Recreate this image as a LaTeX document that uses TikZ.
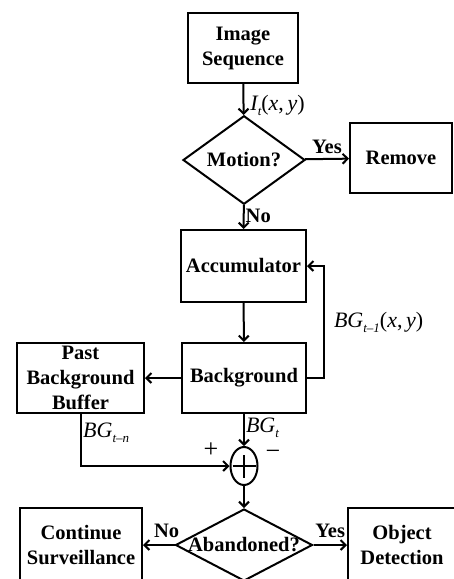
\documentclass[tikz,border=0pt]{standalone}
\usepackage{fontspec}
\setmainfont{Liberation Serif}
\usepackage{tikz}
\usetikzlibrary{positioning}
\usetikzlibrary{calc}
\usetikzlibrary{shapes.geometric}
\usetikzlibrary{arrows.meta}

\newcommand{\boxfont}{\fontsize{20.5}{25}\selectfont\bfseries}
\newcommand{\sigfont}{\fontsize{22}{24}\selectfont\itshape}
\newcommand{\lowsub}[1]{\raisebox{-0.5ex}{\fontsize{13}{13}\selectfont #1}}
\newcommand{\xy}{{\upshape(}x{\upshape,}\,y{\upshape)}}

\tikzset{
  block/.style={draw, line width=2pt, align=center, inner sep=0pt, font=\boxfont},
  decision/.style={draw, diamond, line width=2pt, inner sep=0pt, font=\boxfont},
  flow/.style={line width=2pt, ->},
  sig/.style={font=\sigfont, inner sep=1pt},
  tag/.style={font=\boxfont, inner sep=1pt},
}

\begin{document}
\begin{tikzpicture}[x=1pt, y=-1pt, >={Straight Barb[length=5pt,width=10pt]}]
      \useasboundingbox (0,0) rectangle (454,579);

      % blocks
      \node[block, minimum width=110, minimum height=70] at (243,48) (img) {Image\\Sequence};
      \node[decision, minimum width=122, minimum height=70] at (244,160) (motion) {Motion?};
      \node[block, minimum width=102, minimum height=70] at (401,158) (remove) {Remove};
      \node[block, minimum width=125, minimum height=72] at (243.5,266) (accum) {Accumulator};
      \node[block, minimum width=124, minimum height=70] at (244,378) (bg) {Background};
      \node[block, minimum width=127, minimum height=70] at (80.5,378) (pbb) {Past\\Background\\Buffer};
      \node[draw, ellipse, line width=2pt, minimum width=27, minimum height=38, inner sep=0pt] at (244,466) (sum) {};
      \node[decision, minimum width=137, minimum height=72, label={[font=\boxfont]center:Abandoned?}] at (244,545) (aband) {};
      \node[block, minimum width=122, minimum height=74] at (81,545) (cont) {Continue\\Surveillance};
      \node[block, minimum width=108, minimum height=74] at (402,545) (objdet) {Object\\Detection};

      % plus sign in the adder
      \draw[line width=2pt] ($(sum.west)+(3,0)$) -- ($(sum.east)+(-3,0)$);
      \draw[line width=2pt] ($(sum.north)+(0,9)$) -- ($(sum.south)+(0,-8)$);

      % connectors
      \draw[flow] (img) -- node[sig, right, xshift=5pt, yshift=-6pt] {I\lowsub{t}\xy} (motion);
      \draw[flow] (motion) -- node[tag, above=3pt] {Yes} (remove);
      \draw[flow] (motion) -- node[tag, right, pos=0.45] {No} (accum);
      \draw[flow] (accum) -- (bg);
      \draw[flow] (bg.east) -- ++(17,0) |- node[sig, right, pos=0.25, xshift=8pt] {BG\lowsub{t–1}\xy} (accum.east);
      \draw[flow] (bg) -- (pbb);
      \draw[flow] (bg) -- node[sig, right, yshift=2pt] {BG\lowsub{t}} (sum);
      \draw[flow] (pbb.south) |- (sum.west);
      \node[sig, right] at (82,433) (bgn) {BG\lowsub{t–n}};
      \node[font=\fontsize{26}{26}\selectfont, inner sep=0pt] at (211,450) (plus) {+};
      \node[font=\fontsize{26}{26}\selectfont, inner sep=0pt] at (273,455) (minus) {−};
      \draw[flow] (sum) -- (aband);
      \draw[flow] (aband.west) -- node[tag, above=5pt, pos=0.25] {No} (cont);
      \draw[flow] (aband.east) -- node[tag, above=5pt] {Yes} (objdet);
\end{tikzpicture}
\end{document}
